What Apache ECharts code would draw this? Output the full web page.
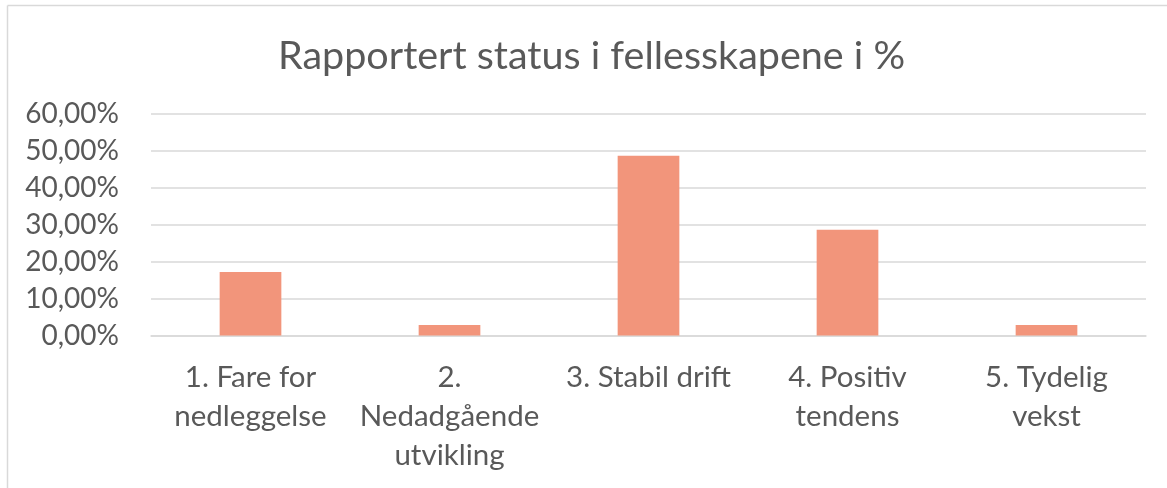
<!DOCTYPE html>
<html>
<head>
<meta charset="utf-8">
<script src="https://cdn.jsdelivr.net/npm/echarts@6/dist/echarts.min.js"></script>
<style>
  html, body { margin: 0; padding: 0; background: #fff; }
  #chart { width: 1167px; height: 488px; }
</style>
</head>
<body>
<div id="chart"></div>
<script>
  var categories = [
    '1. Fare for\nnedleggelse',
    '2.\nNedadgående\nutvikling',
    '3. Stabil drift',
    '4. Positiv\ntendens',
    '5. Tydelig\nvekst'
  ];
  var shares = [0.1714, 0.0286, 0.4857, 0.2857, 0.0286];
  var yTicks = { min: 0, max: 0.6, interval: 0.1 };

  var font = 'Lato, "Open Sans", sans-serif';

  function pct(v) {
    return (v * 100).toFixed(2).replace('.', ',') + '%';
  }

  var chart = echarts.init(document.getElementById('chart'), null, { renderer: 'canvas' });
  chart.setOption({
    backgroundColor: '#fff',
    animation: false,
    title: {
      text: 'Rapportert status i fellesskapene i %',
      left: 273,
      top: 31,
      textStyle: { color: '#595959', fontFamily: font, fontSize: 39.5, fontWeight: 'normal' }
    },
    graphic: [
      { type: 'line', shape: { x1: 7.5, y1: 5.5, x2: 1167, y2: 5.5 }, style: { stroke: '#d9d9d9', lineWidth: 1.5 } },
      { type: 'line', shape: { x1: 7.5, y1: 5.5, x2: 7.5, y2: 488 }, style: { stroke: '#d9d9d9', lineWidth: 1.5 } }
    ],
    grid: { left: 151, right: 21, top: 113.5, bottom: 152.5 },
    xAxis: {
      type: 'category',
      data: categories,
      axisTick: { show: false },
      axisLine: { lineStyle: { color: '#d9d9d9', width: 1.5 } },
      axisLabel: {
        color: '#595959', fontFamily: font, fontSize: 29.5, lineHeight: 39,
        margin: 22, interval: 0
      }
    },
    yAxis: {
      type: 'value',
      min: yTicks.min,
      max: yTicks.max,
      interval: yTicks.interval,
      axisLine: { show: false },
      axisTick: { show: false },
      splitLine: { lineStyle: { color: '#d9d9d9', width: 1.5 } },
      axisLabel: {
        color: '#595959', fontFamily: font, fontSize: 28, margin: 32,
        formatter: pct
      }
    },
    series: [{
      type: 'bar',
      data: shares,
      barWidth: '31%',
      itemStyle: { color: '#f2957b' }
    }]
  });
</script>
</body>
</html>
